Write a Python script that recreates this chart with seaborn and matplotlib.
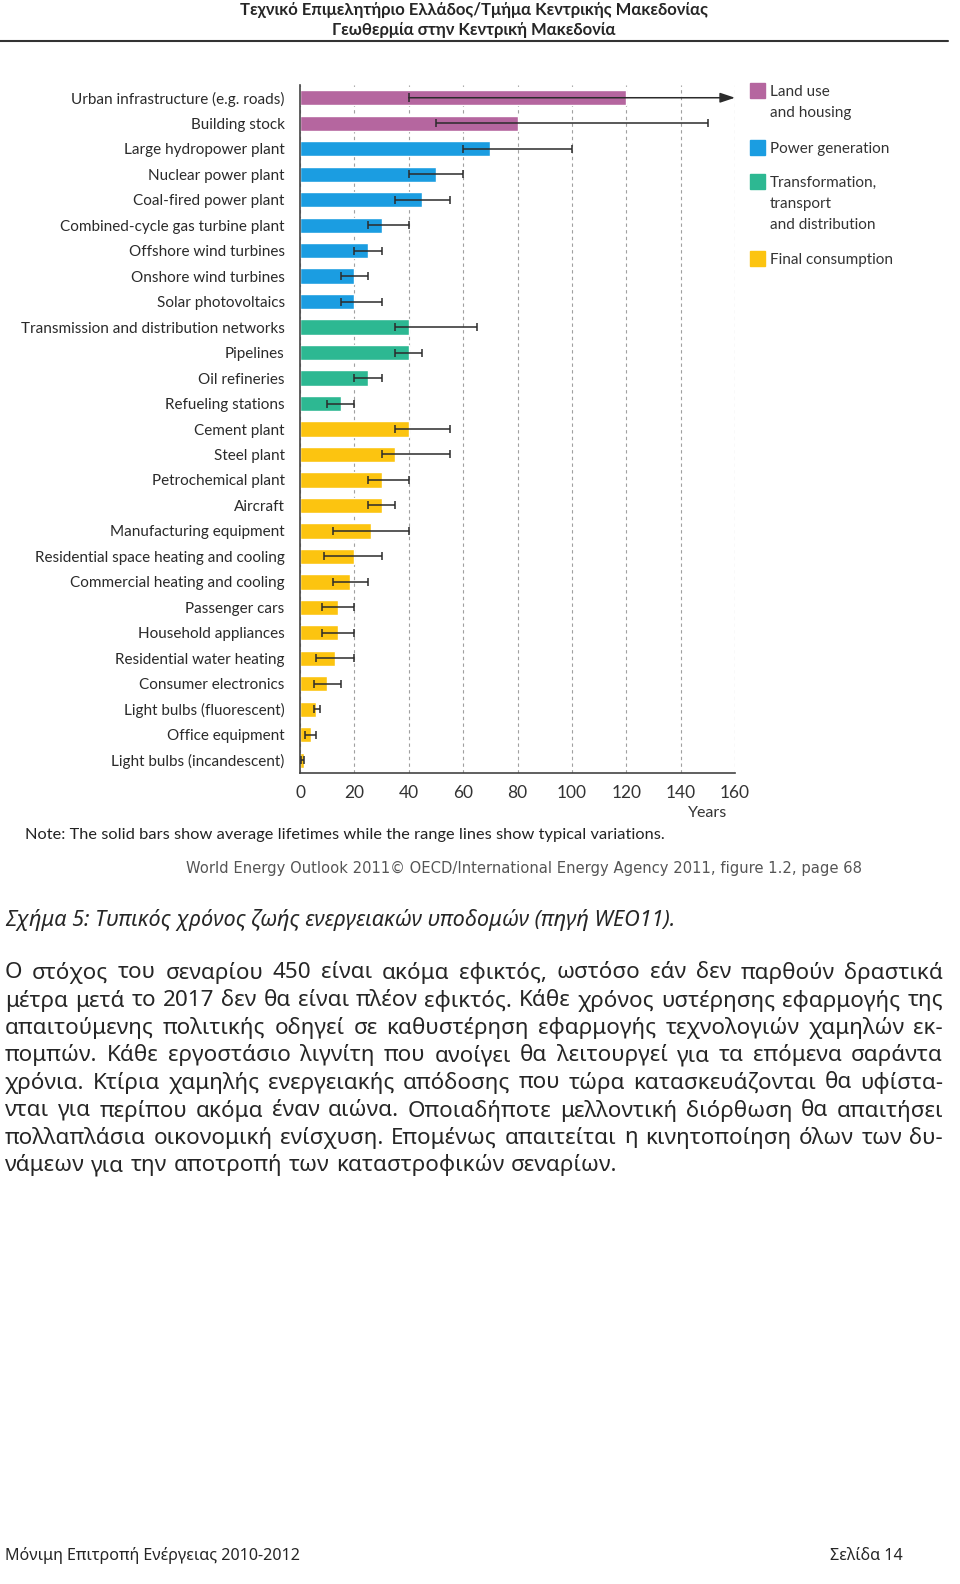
import matplotlib
matplotlib.use("Agg")
import matplotlib.pyplot as plt
import seaborn as sns
import pandas as pd
import numpy as np
from matplotlib import font_manager
from matplotlib.patches import Rectangle

# --- data -------------------------------------------------------------
items = ["Urban infrastructure (e.g. roads)", "Building stock",
         "Large hydropower plant", "Nuclear power plant", "Coal-fired power plant",
         "Combined-cycle gas turbine plant", "Offshore wind turbines",
         "Onshore wind turbines", "Solar photovoltaics",
         "Transmission and distribution networks", "Pipelines", "Oil refineries",
         "Refueling stations",
         "Cement plant", "Steel plant", "Petrochemical plant", "Aircraft",
         "Manufacturing equipment", "Residential space heating and cooling",
         "Commercial heating and cooling", "Passenger cars", "Household appliances",
         "Residential water heating", "Consumer electronics",
         "Light bulbs (fluorescent)", "Office equipment", "Light bulbs (incandescent)"]
groups = (["Land use and housing"] * 2 + ["Power generation"] * 7
          + ["Transformation, transport and distribution"] * 4
          + ["Final consumption"] * 14)
avg_life = [120, 80, 70, 50, 45, 30, 25, 20, 20, 40, 40, 25, 15,
            40, 35, 30, 30, 26, 20, 18.5, 14, 14, 13, 10, 6, 4, 1.5]
low_life = [40, 50, 60, 40, 35, 25, 20, 15, 15, 35, 35, 20, 10,
            35, 30, 25, 25, 12, 9, 12, 8, 8, 6, 5, 5, 2, 0.5]
# nan = range runs off the chart (drawn as an arrow)
high_life = [np.nan, 150, 100, 60, 55, 40, 30, 25, 30, 65, 45, 30, 20,
             55, 55, 40, 35, 40, 30, 25, 20, 20, 20, 15, 7.5, 6, 1.5]

group_colors = {"Land use and housing": "#b5669f",
                "Power generation": "#1b9de1",
                "Transformation, transport and distribution": "#2db892",
                "Final consumption": "#fcc410"}
legend_labels = ["Land use\nand housing", "Power generation",
                 "Transformation,\ntransport\nand distribution", "Final consumption"]

x_ticks = [0, 20, 40, 60, 80, 100, 120, 140, 160]

header = ["Τεχνικό Επιμελητήριο Ελλάδος/Τμήμα Κεντρικής Μακεδονίας",
          "Γεωθερμία στην Κεντρική Μακεδονία"]
caption = "Σχήμα 5: Τυπικός χρόνος ζωής ενεργειακών υποδομών (πηγή WEO11)."
paragraph = [
    "Ο στόχος του σεναρίου 450 είναι ακόμα εφικτός, ωστόσο εάν δεν παρθούν δραστικά",
    "μέτρα μετά το 2017 δεν θα είναι πλέον εφικτός. Κάθε χρόνος υστέρησης εφαρμογής της",
    "απαιτούμενης πολιτικής οδηγεί σε καθυστέρηση εφαρμογής τεχνολογιών χαμηλών εκ-",
    "πομπών. Κάθε εργοστάσιο λιγνίτη που ανοίγει θα λειτουργεί για τα επόμενα σαράντα",
    "χρόνια. Κτίρια χαμηλής ενεργειακής απόδοσης που τώρα κατασκευάζονται θα υφίστα-",
    "νται για περίπου ακόμα έναν αιώνα. Οποιαδήποτε μελλοντική διόρθωση θα απαιτήσει",
    "πολλαπλάσια οικονομική ενίσχυση. Επομένως απαιτείται η κινητοποίηση όλων των δυ-",
    "νάμεων για την αποτροπή των καταστροφικών σεναρίων.",
]
note = "Note: The solid bars show average lifetimes while the range lines show typical variations."
source = "World Energy Outlook 2011© OECD/International Energy Agency 2011, figure 1.2, page 68"
footer_left = "Μόνιμη Επιτροπή Ενέργειας 2010-2012"
footer_right = "Σελίδα 14"

df = pd.DataFrame({"item": items, "group": groups, "avg": avg_life,
                   "low": low_life, "high": high_life})

# --- fonts -------------------------------------------------------------
installed = {f.name for f in font_manager.fontManager.ttflist}
narrow = "Liberation Sans Narrow" if "Liberation Sans Narrow" in installed else "Lato"
greek = ["Noto Sans", "DejaVu Sans"]

sns.set_style("white")
plt.rcParams["font.family"] = [narrow, "DejaVu Sans"]

W, H = 960, 1584
fig = plt.figure(figsize=(W / 100, H / 100), dpi=100)


def fx(px):
    return px / W


def fy(py):
    return 1 - py / H


# --- chart -------------------------------------------------------------
ax = fig.add_axes([fx(300), fy(773), fx(435), (773 - 85) / H])
sns.barplot(data=df, x="avg", y="item", hue="group", palette=group_colors,
            dodge=False, width=0.6, saturation=1, legend=False, ax=ax, zorder=2)

pos = np.arange(len(df))
closed = df["high"].notna().to_numpy()
ax.errorbar((df["low"] + df["high"])[closed] / 2, pos[closed],
            xerr=((df["high"] - df["low"]) / 2)[closed], fmt="none",
            ecolor="#2b2b2b", elinewidth=1.1, capsize=3, capthick=1.1, zorder=3)
for i in pos[~closed]:
    ax.errorbar(df["low"][i], i, yerr=0.18, fmt="none", ecolor="#2b2b2b",
                elinewidth=1.1, zorder=3)
    ax.annotate("", xy=(x_ticks[-1], i), xytext=(df["low"][i], i),
                arrowprops=dict(arrowstyle="-|>,head_length=0.9,head_width=0.3",
                                color="#2b2b2b", lw=1.1, shrinkA=0, shrinkB=0),
                zorder=3)

ax.set_xlim(0, 160)
ax.set_ylim(len(df) - 0.5, -0.5)
ax.set_xticks(x_ticks)
ax.set_yticks(np.arange(-0.5, len(df), 1), minor=True)
ax.set_xlabel("")
ax.set_ylabel("")
ax.xaxis.grid(True, linestyle=(0, (3, 3)), color="#a0a0a0", lw=0.8)
ax.set_axisbelow(True)
for s in ["top", "right"]:
    ax.spines[s].set_visible(False)
for s in ["left", "bottom"]:
    ax.spines[s].set_color("#444444")
    ax.spines[s].set_linewidth(1.2)
ax.tick_params(axis="y", which="major", length=0, pad=11, labelsize=11,
               labelcolor="#2a2a2a")
ax.tick_params(axis="y", which="minor", length=7, width=1.1, color="#444444")
ax.tick_params(axis="x", length=7, width=1.1, direction="inout", color="#444444",
               pad=5, labelsize=12.5, labelcolor="#333333")

# legend (manual, squares aligned to first line)
leg_rows = [83, 140, 174, 251]
for lab, grp, top in zip(legend_labels, group_colors, leg_rows):
    fig.patches.append(Rectangle((fx(750), fy(top + 15)), fx(15), 15 / H,
                                 transform=fig.transFigure, color=group_colors[grp]))
    fig.text(fx(770), fy(top + 2), lab, ha="left", va="top", fontsize=11,
             color="#333333", linespacing=1.65)

fig.text(fx(727), fy(813), "Years", ha="right", va="center", fontsize=11.5, color="#333333")
fig.text(fx(25), fy(835), note, ha="left", va="center", fontsize=11.8, color="#222222")
fig.text(fx(524), fy(868), source, ha="center", va="center", fontsize=10.6,
         color="#555555", family=["DejaVu Sans"])

# --- page text -------------------------------------------------------
fig.text(fx(474), fy(10), header[0], ha="center", va="center", fontsize=12,
         fontweight="bold", family=[narrow, "DejaVu Sans"])
fig.text(fx(474), fy(30), header[1], ha="center", va="center", fontsize=12,
         fontweight="bold", family=[narrow, "DejaVu Sans"])
fig.add_artist(plt.Line2D([0, fx(948)], [fy(41), fy(41)], color="#333333", lw=1.5))

fig.text(fx(5), fy(920), caption, ha="left", va="center", fontsize=15.6,
         style="italic", family=greek)

# justified paragraph: size the font so the longest line nearly fills the width
renderer = fig.canvas.get_renderer()
probe = [fig.text(0, 0, line, fontsize=10, family=greek) for line in paragraph]
longest = max(t.get_window_extent(renderer).width for t in probe)
for t in probe:
    t.remove()
para_size = 10 * 922 / longest

for k, line in enumerate(paragraph):
    y = fy(973 + 27.5 * k)
    words = line.split(" ")
    texts = [fig.text(0, y, w, ha="left", va="center", fontsize=para_size, family=greek)
             for w in words]
    widths = [t.get_window_extent(renderer).width for t in texts]
    if k < len(paragraph) - 1:
        gap = (943 - 5 - sum(widths)) / (len(words) - 1)
    else:
        gap = para_size * 0.4
    x = 5
    for t, w in zip(texts, widths):
        t.set_x(fx(x))
        x += w + gap

fig.text(fx(5), fy(1556), footer_left, ha="left", va="center", fontsize=11.6, family=greek)
fig.text(fx(903), fy(1556), footer_right, ha="right", va="center", fontsize=11.6, family=greek)

fig.savefig("out.png", dpi=100)
